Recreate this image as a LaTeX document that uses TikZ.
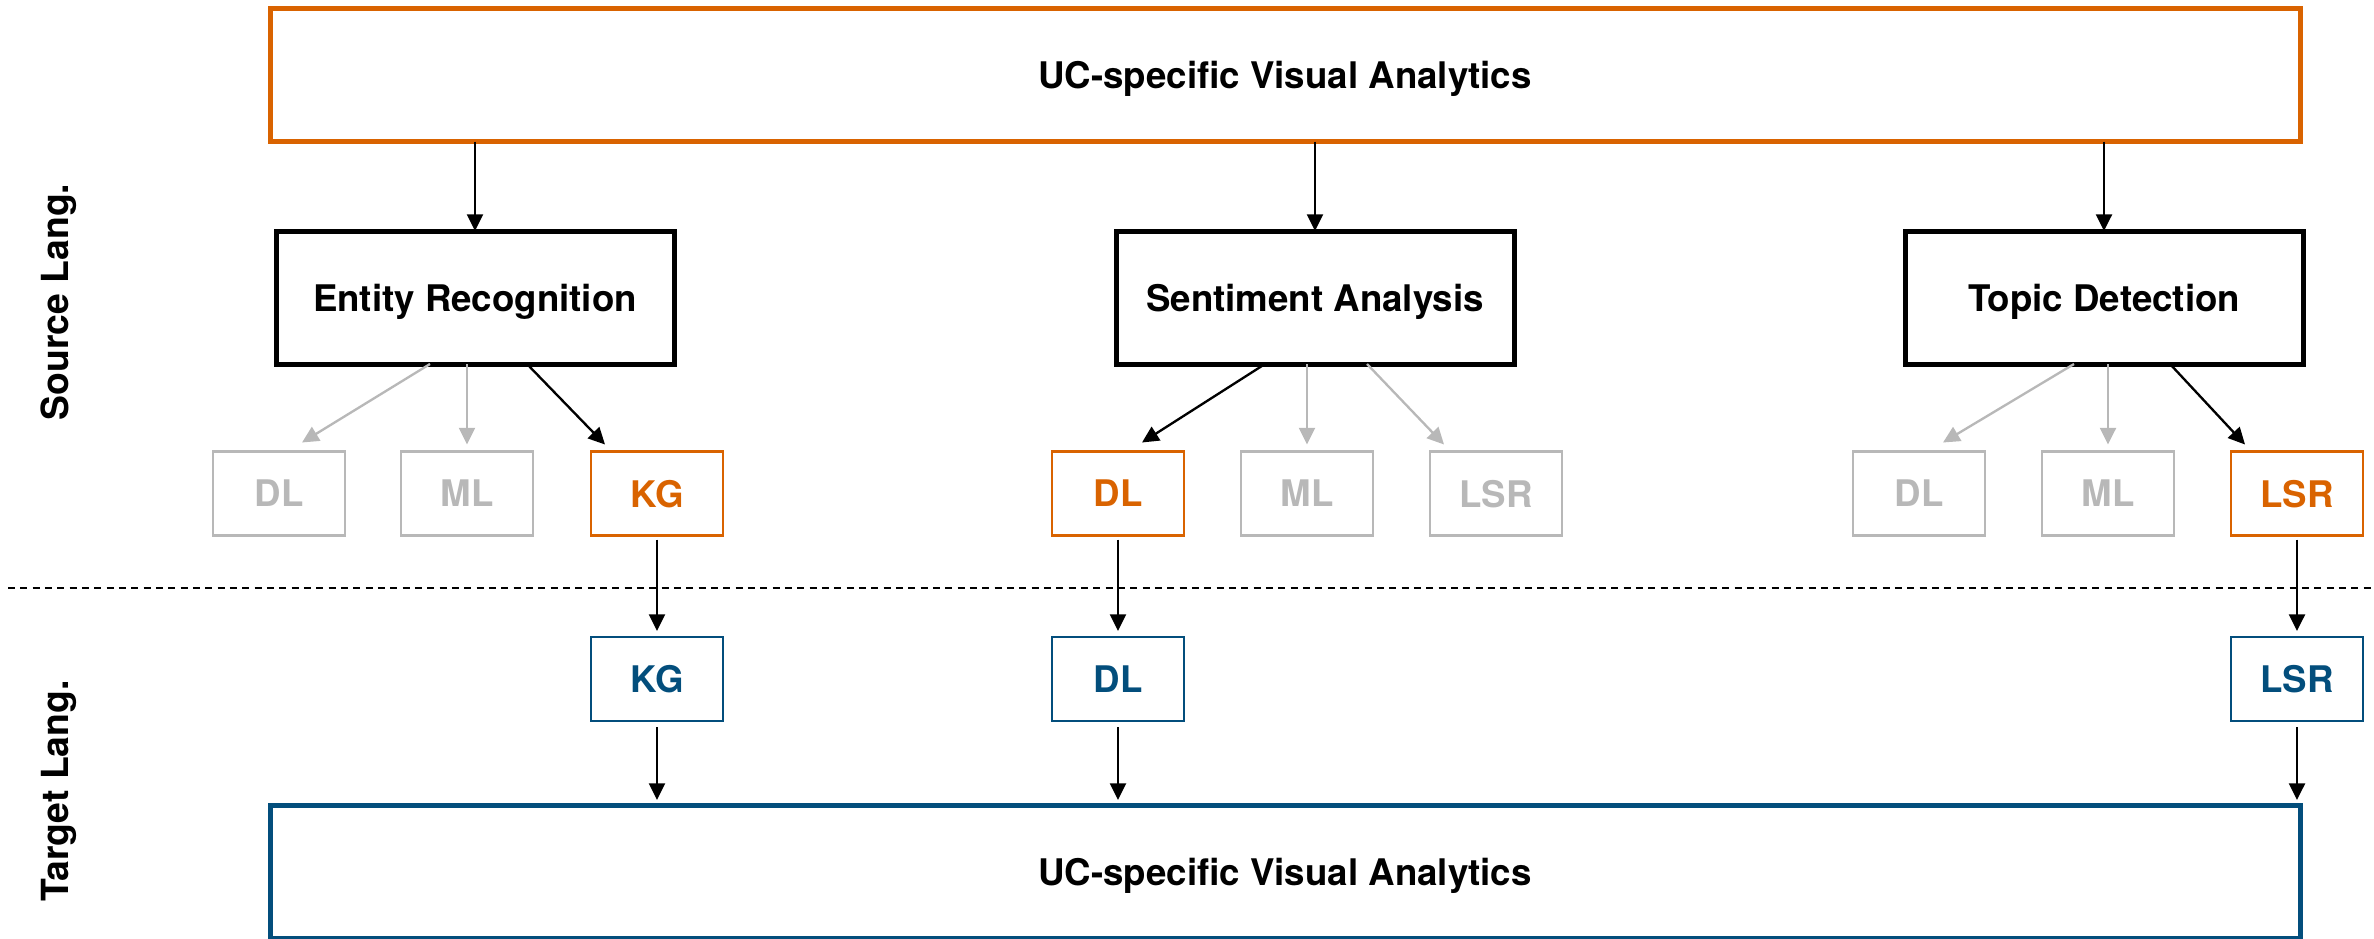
\documentclass[tikz,border=0pt]{standalone}
\usepackage{fontspec}
\setmainfont{TeX Gyre Heros}
\usetikzlibrary{arrows.meta,calc}

\definecolor{ucorange}{RGB}{217,99,0}
\definecolor{ucblue}{RGB}{3,78,124}
\definecolor{ucgray}{RGB}{184,184,184}

\def\px{0.3pt}

\tikzset{
  every node/.style={font=\fontsize{11}{13}\selectfont\bfseries, inner sep=0pt, outer sep=0pt, text depth=0pt},
  bigbox/.style={draw, line width=1.5pt, minimum width={2030*\px}, minimum height={133*\px}},
  taskbox/.style={draw=black, line width=1.5pt, minimum width={398*\px}, minimum height={133*\px}},
  methbox/.style={draw, line width=0.75pt, minimum width={132*\px}, minimum height={84*\px}},
  grayb/.style={methbox, draw=ucgray, text=ucgray},
  orangeb/.style={methbox, draw=ucorange, text=ucorange},
  blueb/.style={methbox, draw=ucblue, text=ucblue},
  arr/.style={line width=0.7pt, -{Triangle[length=5pt,width=4.8pt]}},
  blackarr/.style={arr, draw=black},
  grayarr/.style={arr, draw=ucgray},
  sidelabel/.style={rotate=90, font=\fontsize{11.2}{13}\selectfont\bfseries}
}

\begin{document}
\begin{tikzpicture}[x=0.3pt, y=-0.3pt]
  \useasboundingbox (0,0) rectangle (2374,939);

  % source-language pipeline
  \node[bigbox, draw=ucorange] (top) at (1285,75) {UC-specific Visual Analytics};

  \node[taskbox] (er) at (475,297.5) {Entity Recognition};
  \node[taskbox] (sa) at (1315,297.5) {Sentiment Analysis};
  \node[taskbox] (td) at (2104,297.5) {Topic Detection};

  \node[grayb]   (dl1)  at (279,493.5)  {DL};
  \node[grayb]   (ml1)  at (467,493.5)  {ML};
  \node[orangeb] (kg1)  at (657,493.5)  {KG};

  \node[orangeb] (dl2)  at (1118,493.5) {DL};
  \node[grayb]   (ml2)  at (1307,493.5) {ML};
  \node[grayb]   (lsr2) at (1496,493.5) {LSR};

  \node[grayb]   (dl3)  at (1919,493.5) {DL};
  \node[grayb]   (ml3)  at (2108,493.5) {ML};
  \node[orangeb] (lsr3) at (2297,493.5) {LSR};

  % target-language pipeline
  \node[blueb] (kgt)  at (657,679)  {KG};
  \node[blueb] (dlt)  at (1118,679) {DL};
  \node[blueb] (lsrt) at (2297,679) {LSR};

  \node[bigbox, draw=ucblue] (bot) at (1285,871.5) {UC-specific Visual Analytics};

  % language separator and side labels
  \coordinate (sepl) at (8,588);
  \coordinate (sepr) at (2374,588);
  \draw[line width=0.8pt, dash pattern=on 2.1pt off 1.6pt] (sepl) -- (sepr);

  \node[sidelabel] (srclab) at (55,302) {Source Lang.};
  \node[sidelabel] (tgtlab) at (55,791) {Target Lang.};

  % analytics to tasks
  \draw[blackarr] (top.south -| er.north) -- (er.north);
  \draw[blackarr] (top.south -| sa.north) -- (sa.north);
  \draw[blackarr] (top.south -| td.north) -- (td.north);

  % tasks to methods
  \draw[grayarr]  ($(er.south)+(-45,0)$) -- ($(dl1.north)+(23,-9)$);
  \draw[grayarr]  (ml1.north |- er.south) -- ($(ml1.north)+(0,-7)$);
  \draw[blackarr] ($(er.south)+(52,0)$) -- ($(kg1.north)+(-52,-7)$);

  \draw[blackarr] ($(sa.south)+(-50,0)$) -- ($(dl2.north)+(24,-9)$);
  \draw[grayarr]  (ml2.north |- sa.south) -- ($(ml2.north)+(0,-7)$);
  \draw[grayarr]  ($(sa.south)+(52,0)$) -- ($(lsr2.north)+(-52,-7)$);

  \draw[grayarr]  ($(td.south)+(-30,0)$) -- ($(dl3.north)+(24,-9)$);
  \draw[grayarr]  (ml3.north |- td.south) -- ($(ml3.north)+(0,-7)$);
  \draw[blackarr] ($(td.south)+(66,0)$) -- ($(lsr3.north)+(-52,-7)$);

  % transfer to target language
  \draw[blackarr] ($(kg1.south)+(0,4)$) -- ($(kgt.north)+(0,-6)$);
  \draw[blackarr] ($(dl2.south)+(0,4)$) -- ($(dlt.north)+(0,-6)$);
  \draw[blackarr] ($(lsr3.south)+(0,4)$) -- ($(lsrt.north)+(0,-6)$);

  % target methods to analytics
  \draw[blackarr] ($(kgt.south)+(0,6)$) -- ($(kgt.south |- bot.north)+(0,-5)$);
  \draw[blackarr] ($(dlt.south)+(0,6)$) -- ($(dlt.south |- bot.north)+(0,-5)$);
  \draw[blackarr] ($(lsrt.south)+(0,6)$) -- ($(lsrt.south |- bot.north)+(0,-5)$);
\end{tikzpicture}
\end{document}
